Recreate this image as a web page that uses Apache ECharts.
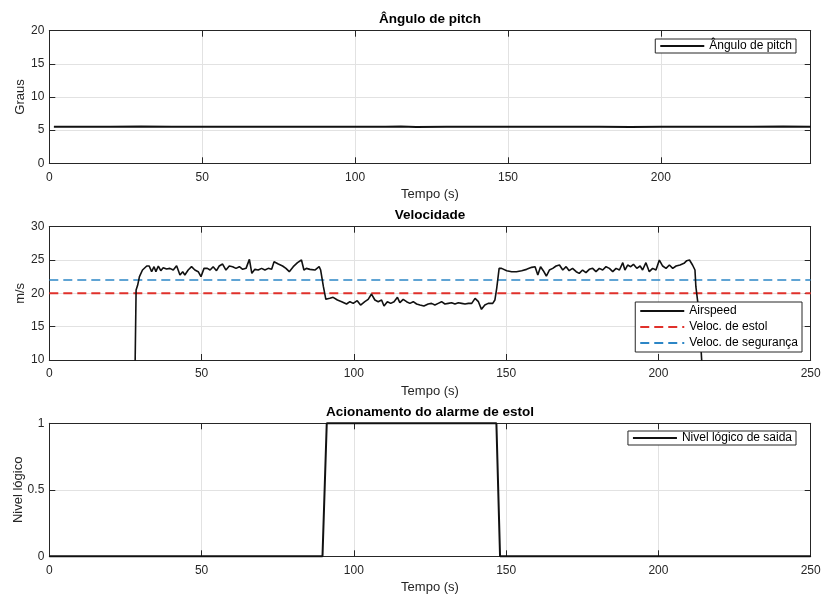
<!DOCTYPE html>
<html>
<head>
<meta charset="utf-8">
<title>Pitch, velocidade e alarme de estol</title>
<script src="https://cdn.jsdelivr.net/npm/echarts@6/dist/echarts.min.js"></script>
<style>
html,body{margin:0;padding:0;background:#fff;}
#main{width:823px;height:597px;}
</style>
</head>
<body>
<div id="main"></div>
<script>
// angulo de pitch (graus)
var pitchTime = [1.5,10,20,30,40,50,60,70,80,90,100,110,115,120,130,140,150,160,170,180,190,200,210,220,230,240,249];
var pitchVal  = [5.52,5.50,5.53,5.54,5.52,5.50,5.52,5.53,5.51,5.52,5.50,5.52,5.54,5.49,5.52,5.53,5.51,5.50,5.53,5.51,5.49,5.52,5.53,5.50,5.52,5.54,5.53];

// airspeed (m/s)
var speedTime = [0,27.9,28.5,29.0,29.6,30.6,32.0,32.8,33.6,34.4,35.0,35.8,36.6,37.4,38.5,39.6,40.7,41.8,42.9,43.8,44.5,45.6,46.7,47.8,48.9,49.8,
  50.8,51.9,52.8,53.8,54.9,55.8,56.9,58.0,59.1,60.2,61.3,62.4,63.5,64.6,65.7,66.5,67.5,68.6,69.7,70.8,71.9,73.0,73.8,75.2,76.6,77.7,78.8,80.1,81.5,82.8,
  83.6,84.4,85.6,87.2,88.6,89.1,90.0,90.8,92.1,93.2,94.6,96.0,97.6,98.7,99.8,101.1,102.2,103.6,104.7,105.8,106.9,108.0,109.1,109.9,111.0,112.1,113.2,
  114.3,115.1,116.2,117.3,118.4,119.5,120.6,121.7,123.0,124.4,125.5,126.6,127.7,128.8,129.9,131.0,132.1,133.2,134.3,135.4,136.5,137.6,138.7,139.8,
  140.9,141.9,143.0,144.1,145.6,146.3,146.9,147.7,148.5,150.2,151.8,153.4,155.1,156.7,158.4,159.5,160.4,161.3,162.2,163.2,164.2,165.3,166.4,167.5,
  168.6,169.7,170.7,171.8,173.0,174.0,175.1,176.2,177.3,178.4,179.5,180.6,181.7,182.8,183.9,185.0,186.1,187.2,188.3,189.0,189.9,190.9,191.8,192.9,
  194.0,194.8,195.9,197.0,198.1,199.2,200.3,201.4,202.5,203.6,204.7,205.8,207.1,208.4,209.3,210.2,211.2,212.0,212.3,213.1,213.7,214.2,215.0,216.0,249];
var speedVal  = [0,0,20.5,21.2,22.5,23.5,24.1,24.1,23.25,24.0,23.25,24.1,23.4,23.85,23.65,23.75,23.5,24.15,22.75,23.25,22.75,23.5,24.0,23.5,23.25,22.5,
  23.75,23.75,23.5,24.0,23.4,24.1,24.4,23.5,24.1,24.0,23.75,24.0,23.6,23.75,25.1,23.0,23.6,23.5,23.75,23.5,23.75,23.6,24.75,24.4,24.1,23.75,23.25,24.0,24.6,25.0,
  23.5,23.75,23.6,23.5,24.0,23.5,21.0,19.1,19.25,19.4,19.0,18.75,18.4,18.75,18.5,18.9,18.25,18.75,19.1,19.9,19.0,18.75,19.0,18.1,18.75,18.5,18.75,
  19.4,18.6,19.1,18.75,18.5,18.75,18.4,18.25,18.1,18.4,18.5,18.25,18.5,18.75,18.4,18.5,18.6,18.4,18.6,18.5,18.4,18.5,18.5,19.25,
  18.75,17.6,18.25,18.5,18.5,19.0,20.75,23.75,23.75,23.4,23.25,23.25,23.4,23.6,23.9,24.0,22.75,24.0,23.4,22.6,23.5,23.75,24.1,24.25,
  23.5,24.0,23.4,23.75,23.25,23.0,23.5,23.1,23.6,23.75,23.25,23.75,23.5,24.0,23.75,23.25,23.75,23.5,24.6,23.5,24.25,24.0,24.35,23.75,
  24.1,23.5,24.6,23.25,23.75,23.5,25.0,24.1,23.75,24.25,23.75,24.1,24.25,24.5,24.9,25.0,24.25,23.5,21.0,18.0,14.0,10.0,5.0,0,0];

// limites de velocidade
var estolVal = 20;
var segurancaVal = 22;

// alarme (nivel logico)
var alarmTime = [0,89.7,91.1,146.8,148.0,250];
var alarmVal  = [0,0,1,1,0,0];

// eixos
var xMax = [249, 250, 250];
var yMin = [0, 10, 0];
var yMax = [20, 30, 1];
var yStep = [5, 5, 0.5];
var yNames = ['Graus', 'm/s', 'Nivel lógico'];
var titles = ['Ângulo de pitch', 'Velocidade', 'Acionamento do alarme de estol'];

function pairs(t, v) {
  var out = [];
  for (var i = 0; i < t.length; i++) out.push([t[i], v[i]]);
  return out;
}

var ink = '#262626';
var gridTops = [30.7, 226.7, 423.3];
var gridH = [132.6, 133.3, 133];
var yNameGap = [22, 22, 24];

var grids = [], xAxes = [], yAxes = [], titleOpts = [];
for (var g = 0; g < 3; g++) {
  grids.push({left: 49.3, top: gridTops[g], width: 761.4, height: gridH[g], outerBoundsMode: 'none', containLabel: false});
  titleOpts.push({
    text: titles[g], left: 430, top: gridTops[g] - 18, textAlign: 'center', padding: 0,
    textStyle: {fontSize: 13.5, fontWeight: 'bold', color: '#000'}
  });
  xAxes.push({
    gridIndex: g, type: 'value', position: 'bottom', min: 0, max: xMax[g], interval: 50,
    axisLine: {show: true, onZero: false, lineStyle: {color: ink, width: 1}},
    axisTick: {show: true, inside: true, length: 6, lineStyle: {color: ink}},
    axisLabel: {color: ink, fontSize: 12, margin: 8, formatter: function (v) { return v % 50 === 0 ? v : ''; }},
    splitLine: {show: true, lineStyle: {color: '#e2e2e2', width: 1}},
    name: 'Tempo (s)', nameLocation: 'middle', nameGap: 25, nameMoveOverlap: false,
    nameTextStyle: {fontSize: 13, color: ink}
  });
  xAxes.push({
    gridIndex: g, type: 'value', position: 'top', min: 0, max: xMax[g], interval: 50,
    axisLine: {show: true, onZero: false, lineStyle: {color: ink, width: 1}},
    axisTick: {show: true, inside: true, length: 6, lineStyle: {color: ink}},
    axisLabel: {show: false}, splitLine: {show: false}
  });
  yAxes.push({
    gridIndex: g, type: 'value', position: 'left', min: yMin[g], max: yMax[g], interval: yStep[g],
    axisLine: {show: true, onZero: false, lineStyle: {color: ink, width: 1}},
    axisTick: {show: true, inside: true, length: 6, lineStyle: {color: ink}},
    axisLabel: {color: ink, fontSize: 12, margin: 5},
    splitLine: {show: true, lineStyle: {color: '#e2e2e2', width: 1}},
    name: yNames[g], nameLocation: 'middle', nameGap: yNameGap[g], nameMoveOverlap: false,
    nameTextStyle: {fontSize: 13, color: ink}
  });
  yAxes.push({
    gridIndex: g, type: 'value', position: 'right', min: yMin[g], max: yMax[g], interval: yStep[g],
    axisLine: {show: true, onZero: false, lineStyle: {color: ink, width: 1}},
    axisTick: {show: true, inside: true, length: 6, lineStyle: {color: ink}},
    axisLabel: {show: false}, splitLine: {show: false}
  });
}

// legenda estilo matlab: so a linha, sem simbolo
var legendBase = {
  orient: 'vertical', itemGap: 4, itemWidth: 44, itemHeight: 12,
  borderColor: ink, borderWidth: 1, borderRadius: 0, backgroundColor: '#fff',
  itemStyle: {opacity: 0},
  textStyle: {fontSize: 12, color: '#000'}
};

var myChart = echarts.init(document.getElementById('main'), null, {renderer: 'canvas'});
var option = {
  animation: false,
  backgroundColor: '#fff',
  textStyle: {fontFamily: 'Liberation Sans, Arial, sans-serif'},
  title: titleOpts,
  grid: grids,
  xAxis: xAxes,
  yAxis: yAxes,
  legend: [
    echarts.util.merge({right: 27, top: 39, padding: [1, 4, 1, 4], data: ['Ângulo de pitch']}, legendBase),
    echarts.util.merge({right: 21, top: 302, padding: [3, 4, 3, 4], data: ['Airspeed', 'Veloc. de estol', 'Veloc. de segurança']}, legendBase),
    echarts.util.merge({right: 27, top: 431, padding: [1, 4, 1, 4], data: ['Nivel lógico de saida']}, legendBase)
  ],
  series: [
    {
      name: 'Ângulo de pitch', type: 'line', xAxisIndex: 0, yAxisIndex: 0,
      data: pairs(pitchTime, pitchVal), symbol: 'none', color: '#111',
      lineStyle: {color: '#111', width: 2}
    },
    {
      name: 'Airspeed', type: 'line', xAxisIndex: 2, yAxisIndex: 2,
      data: pairs(speedTime, speedVal), symbol: 'none', color: '#111', clip: true,
      lineStyle: {color: '#111', width: 1.6}
    },
    {
      name: 'Veloc. de estol', type: 'line', xAxisIndex: 2, yAxisIndex: 2,
      data: [[0, estolVal], [250, estolVal]], symbol: 'none', color: '#e0312b', z: 1,
      lineStyle: {color: '#e0312b', width: 2, type: [9, 5]}
    },
    {
      name: 'Veloc. de segurança', type: 'line', xAxisIndex: 2, yAxisIndex: 2,
      data: [[0, segurancaVal], [250, segurancaVal]], symbol: 'none', color: '#2c86c6', z: 1,
      lineStyle: {color: '#2c86c6', width: 1.6, type: [9, 5]}
    },
    {
      name: 'Nivel lógico de saida', type: 'line', xAxisIndex: 4, yAxisIndex: 4,
      data: pairs(alarmTime, alarmVal), symbol: 'none', color: '#111', clip: false,
      lineStyle: {color: '#111', width: 2}
    }
  ]
};
myChart.setOption(option);
</script>
</body>
</html>
